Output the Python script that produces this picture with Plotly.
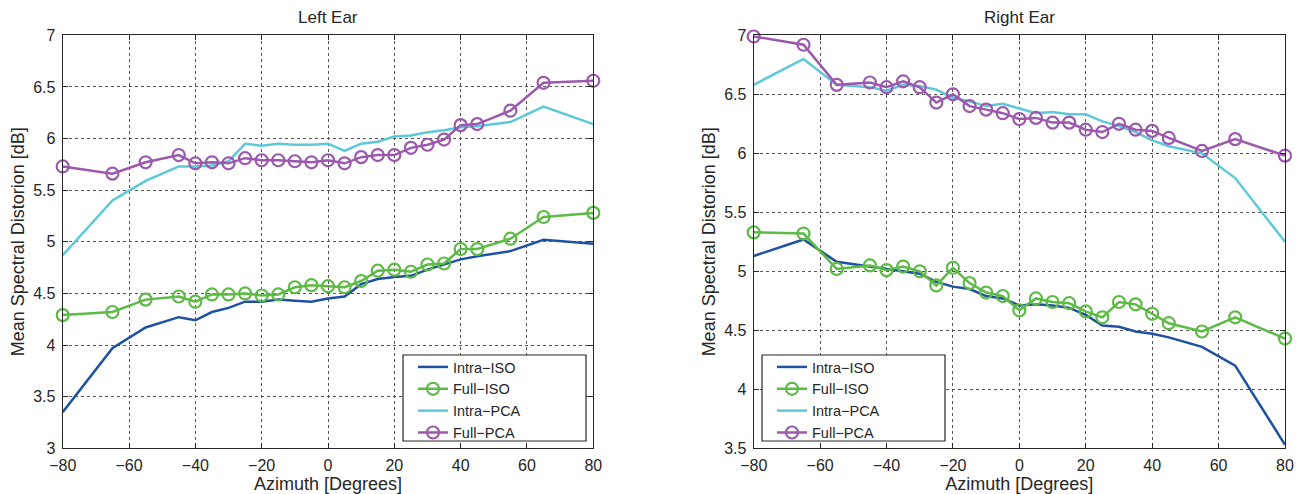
import plotly.graph_objects as go
from plotly.subplots import make_subplots

# Azimuth grid (degrees)
azimuth = [-80, -65, -55, -45, -40, -35, -30, -25, -20, -15, -10, -5, 0,
           5, 10, 15, 20, 25, 30, 35, 40, 45, 55, 65, 80]

# Left ear: mean spectral distortion [dB]
left_intra_iso = [3.35, 3.97, 4.17, 4.27, 4.24, 4.32, 4.36, 4.42, 4.42, 4.44, 4.43, 4.42, 4.45,
                  4.47, 4.59, 4.64, 4.66, 4.67, 4.73, 4.78, 4.83, 4.86, 4.91, 5.02, 4.98]
left_full_iso = [4.29, 4.32, 4.44, 4.47, 4.42, 4.49, 4.49, 4.50, 4.48, 4.49, 4.56, 4.58, 4.57,
                 4.56, 4.62, 4.72, 4.73, 4.71, 4.78, 4.79, 4.93, 4.93, 5.03, 5.24, 5.28]
left_intra_pca = [4.87, 5.40, 5.59, 5.73, 5.73, 5.74, 5.78, 5.95, 5.93, 5.95, 5.94, 5.94, 5.95,
                  5.88, 5.95, 5.97, 6.02, 6.03, 6.06, 6.08, 6.11, 6.12, 6.16, 6.31, 6.14]
left_full_pca = [5.73, 5.66, 5.77, 5.84, 5.76, 5.77, 5.76, 5.81, 5.79, 5.79, 5.78, 5.77, 5.79,
                 5.76, 5.82, 5.84, 5.84, 5.91, 5.94, 5.99, 6.13, 6.14, 6.27, 6.54, 6.56]

# Right ear: mean spectral distortion [dB]
right_intra_iso = [5.13, 5.27, 5.08, 5.04, 5.02, 5.00, 4.98, 4.91, 4.87, 4.85, 4.79, 4.77, 4.71,
                   4.72, 4.71, 4.69, 4.63, 4.54, 4.53, 4.49, 4.47, 4.44, 4.36, 4.20, 3.53]
right_full_iso = [5.33, 5.32, 5.02, 5.05, 5.01, 5.04, 5.00, 4.88, 5.03, 4.90, 4.82, 4.79, 4.67,
                  4.77, 4.74, 4.73, 4.66, 4.61, 4.74, 4.72, 4.64, 4.56, 4.49, 4.61, 4.43]
right_intra_pca = [6.58, 6.80, 6.58, 6.56, 6.53, 6.58, 6.57, 6.54, 6.47, 6.44, 6.40, 6.42, 6.38,
                   6.34, 6.35, 6.33, 6.33, 6.27, 6.23, 6.18, 6.11, 6.06, 6.00, 5.79, 5.25]
right_full_pca = [6.99, 6.92, 6.58, 6.60, 6.56, 6.61, 6.56, 6.43, 6.50, 6.40, 6.37, 6.34, 6.29,
                  6.30, 6.26, 6.26, 6.20, 6.18, 6.25, 6.20, 6.19, 6.13, 6.02, 6.12, 5.98]

series_names = ["Intra\u2212ISO", "Full\u2212ISO", "Intra\u2212PCA", "Full\u2212PCA"]
series_colors = ["#1f51a3", "#5cba45", "#5cc9d9", "#9b58ad"]
series_markers = [False, True, False, True]

W, H = 1309, 494
FONT = "Liberation Sans, Arial, Helvetica, sans-serif"
TXT = "#262626"

# panel pixel boxes: (x0, x1), shared y range
left_px = (62.7, 593.3)
right_px = (753.7, 1285.0)
top_px, bot_px = 35.3, 448.3

fig = make_subplots(rows=1, cols=2)

panels = [
    (1, [left_intra_iso, left_full_iso, left_intra_pca, left_full_pca], "legend"),
    (2, [right_intra_iso, right_full_iso, right_intra_pca, right_full_pca], "legend2"),
]
for col, data, leg in panels:
    for name, vals, color, mk in zip(series_names, data, series_colors, series_markers):
        fig.add_trace(
            go.Scatter(
                x=azimuth, y=vals, name=name,
                mode="lines+markers" if mk else "lines",
                line=dict(color=color, width=2.5),
                marker=dict(symbol="circle-open", size=12, color=color,
                            line=dict(width=2.2, color=color)),
                legend=leg, cliponaxis=False,
            ),
            row=1, col=col,
        )

axis_common = dict(
    showline=True, linecolor=TXT, linewidth=1.2, mirror="ticks",
    ticks="inside", ticklen=5, tickwidth=1, tickcolor=TXT,
    showgrid=True, gridcolor="#555555", griddash="dot", gridwidth=1,
    zeroline=False, automargin=False,
    tickfont=dict(family=FONT, size=16, color=TXT),
    title_font=dict(family=FONT, size=18, color=TXT),
)

ydom = [1 - bot_px / H, 1 - top_px / H]
fig.update_xaxes(**axis_common, range=[-80, 80], dtick=20, ticklabelstandoff=2,
                 title_text="Azimuth [Degrees]", title_standoff=1)
fig.update_xaxes(domain=[left_px[0] / W, left_px[1] / W], row=1, col=1)
fig.update_xaxes(domain=[right_px[0] / W, right_px[1] / W], row=1, col=2)
fig.update_yaxes(**axis_common, ticklabelstandoff=3,
                 title_text="Mean Spectral Distorion [dB]",
                 title_standoff=3, domain=ydom)
fig.update_yaxes(range=[3, 7], dtick=0.5, row=1, col=1)
fig.update_yaxes(range=[3.5, 7], dtick=0.5, row=1, col=2)

# panel titles
for (x0, x1), txt in [(left_px, "Left Ear"), (right_px, "Right Ear")]:
    fig.add_annotation(x=(x0 + x1) / 2 / W, y=1 - 17 / H, xref="paper", yref="paper",
                       text=txt, showarrow=False, xanchor="center", yanchor="middle",
                       font=dict(family=FONT, size=17, color=TXT))

# legend boxes
leg_boxes = {"legend": (403, 586), "legend2": (762, 945)}
leg_top, leg_bot = 355, 441
for key, (bx0, bx1) in leg_boxes.items():
    fig.add_shape(type="rect", xref="paper", yref="paper",
                  x0=bx0 / W, x1=bx1 / W, y0=1 - leg_bot / H, y1=1 - leg_top / H,
                  line=dict(color=TXT, width=1.2), fillcolor="white", layer="above")

legend_common = dict(
    bgcolor="rgba(0,0,0,0)", borderwidth=0,
    font=dict(family=FONT, size=14.5, color=TXT),
    xanchor="left", yanchor="top", tracegroupgap=0, itemwidth=30,
)
fig.update_layout(
    legend=dict(**legend_common, x=(leg_boxes["legend"][0] + 10) / W, y=1 - 351 / H),
    legend2=dict(**legend_common, x=(leg_boxes["legend2"][0] + 10) / W, y=1 - 351 / H),
    width=W, height=H,
    margin=dict(l=0, r=0, t=0, b=0),
    paper_bgcolor="white", plot_bgcolor="white",
    showlegend=True,
)

fig.write_html("out.html")
